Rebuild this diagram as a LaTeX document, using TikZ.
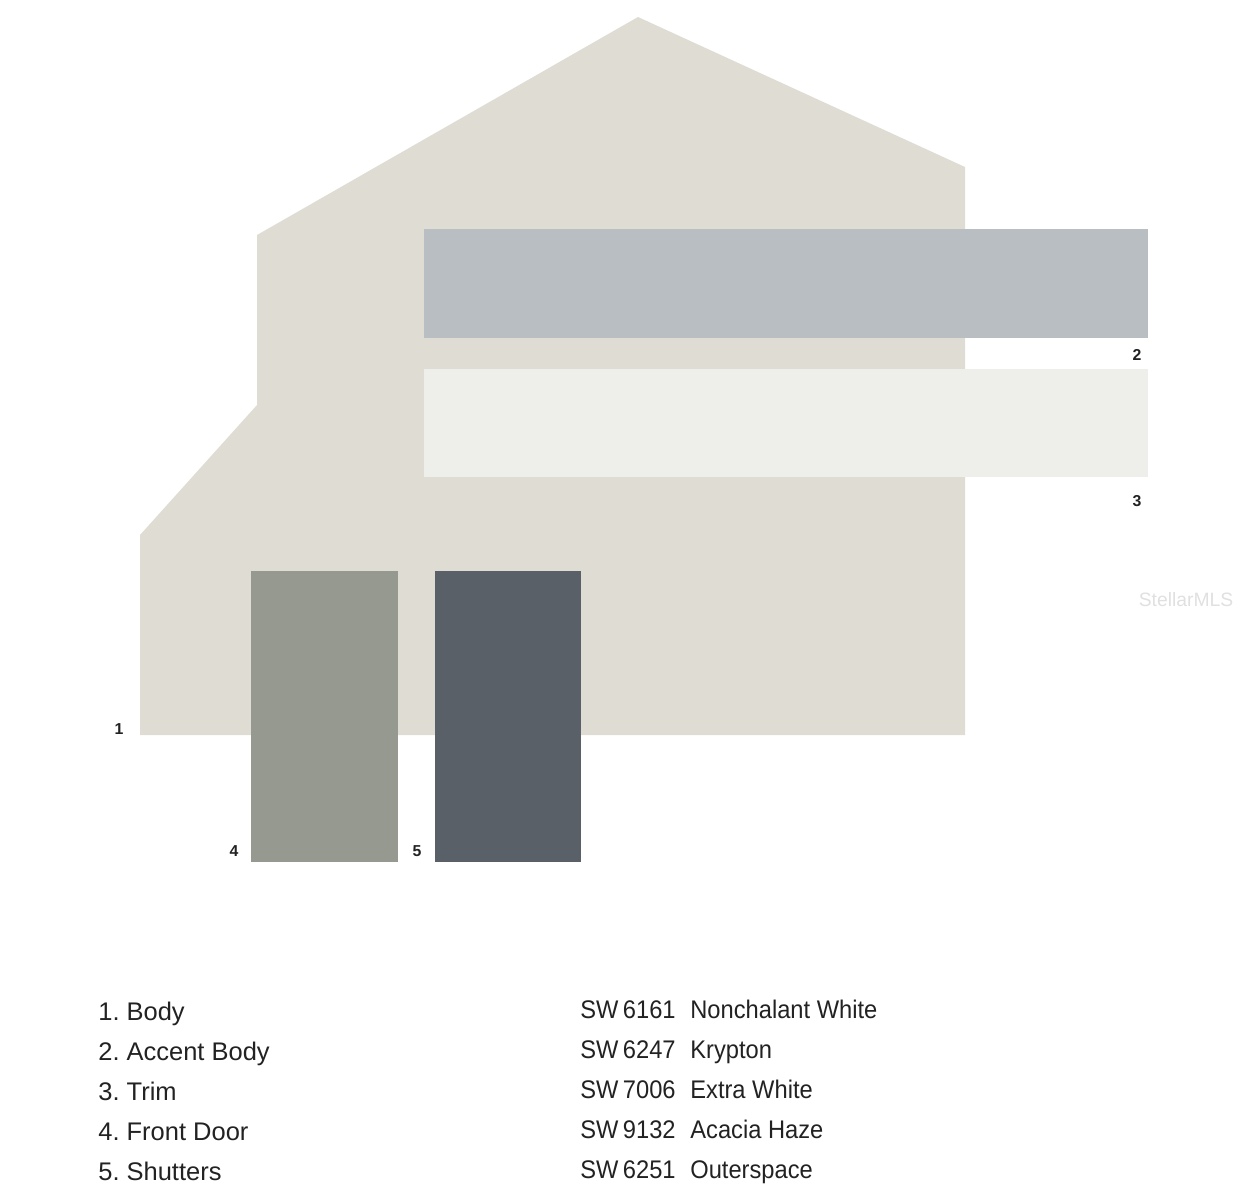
\documentclass[tikz,border=0pt]{standalone}
\usepackage{fontspec}
\setmainfont{Liberation Sans}
\newfontfamily\narrowfont[FakeStretch=0.93]{Liberation Sans}
\usepackage{xcolor}
\usetikzlibrary{positioning}

\definecolor{bodycol}{HTML}{DFDCD3}
\definecolor{accentcol}{HTML}{B9BEC3}
\definecolor{trimcol}{HTML}{EEEEEA}
\definecolor{doorcol}{HTML}{959990}
\definecolor{shuttercol}{HTML}{5A6068}
\definecolor{inkcol}{HTML}{222222}

\tikzset{
	swatchnum/.style={font=\fontsize{9}{9}\selectfont\bfseries, text=inkcol, inner sep=0pt},
	legendtext/.style={font=\fontsize{14.5}{14.5}\selectfont\frenchspacing, text=inkcol, inner sep=0pt, anchor=base west},
	codetext/.style={legendtext, font=\fontsize{14.5}{14.5}\selectfont\narrowfont}
}

\begin{document}
\begin{tikzpicture}[x=0.02cm, y=-0.02cm]
			\useasboundingbox (0,0) rectangle (1233,1200);
			% house body
			\fill[bodycol] (140,735) -- (140,535) -- (257,405) -- (257,235) -- (638,17)
				-- (965,167) -- (965,735) -- cycle;
			% swatches
			\fill[accentcol] (424,229) rectangle (1148,338);
			\fill[trimcol] (424,369) rectangle (1148,477);
			\fill[doorcol] (251,571) rectangle (398,862);
			\fill[shuttercol] (435,571) rectangle (581,862);
			% numbers
			\node[swatchnum] (num1) at (119,729) {1};
			\node[swatchnum] (num2) at (1137,355) {2};
			\node[swatchnum] (num3) at (1137,501) {3};
			\node[swatchnum] (num4) at (234,851) {4};
			\node[swatchnum] (num5) at (417,851) {5};
			\node[font=\fontsize{11}{11}\selectfont, text=black!12, inner sep=0pt] (mark) at (1186,600) {StellarMLS};
			% legend
			\node[legendtext] (body) at (98,1020) {1. Body};
			\node[legendtext] (accent) at (98,1060) {2. Accent Body};
			\node[legendtext] (trim) at (98,1100) {3. Trim};
			\node[legendtext] (door) at (98,1140) {4. Front Door};
			\node[legendtext] (shutters) at (98,1180) {5. Shutters};
			\node[codetext] (code1) at (580,1018) {SW\kern2.5pt 6161};
			\node[codetext] (code2) at (580,1058) {SW\kern2.5pt 6247};
			\node[codetext] (code3) at (580,1098) {SW\kern2.5pt 7006};
			\node[codetext] (code4) at (580,1138) {SW\kern2.5pt 9132};
			\node[codetext] (code5) at (580,1178) {SW\kern2.5pt 6251};
			\node[codetext] (name1) at (690,1018) {Nonchalant White};
			\node[codetext] (name2) at (690,1058) {Krypton};
			\node[codetext] (name3) at (690,1098) {Extra White};
			\node[codetext] (name4) at (690,1138) {Acacia Haze};
			\node[codetext] (name5) at (690,1178) {Outerspace};
		\end{tikzpicture}
\end{document}
